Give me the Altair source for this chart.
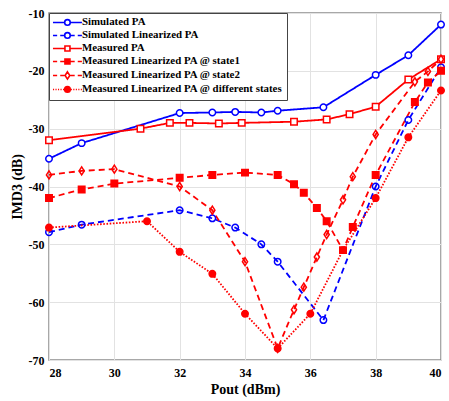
import altair as alt
import pandas as pd

names = [
    "Simulated PA",
    "Simulated Linearized PA",
    "Measured PA",
    "Measured Linearized PA @ state1",
    "Measured Linearized PA @ state2",
    "Measured Linearized PA @ different states",
]

sim_pa_x = [28, 29, 32, 33, 33.7, 34.5, 35, 36.4, 38, 39, 40]
sim_pa_y = [-35.2, -32.5, -27.3, -27.2, -27.1, -27.2, -26.9, -26.3, -20.7, -17.3, -12.0]

sim_lin_x = [28, 29, 32, 33, 33.7, 34.5, 35, 36.4, 38, 39, 40]
sim_lin_y = [-47.9, -46.6, -44.1, -45.5, -47.1, -50.0, -53.0, -63.1, -40.0, -28.5, -19.4]

meas_pa_x = [28, 30.8, 31.7, 32.3, 33.2, 33.9, 35.5, 36.5, 37.2, 38, 39, 40]
meas_pa_y = [-32.0, -30.0, -29.0, -29.0, -29.1, -29.0, -28.8, -28.4, -27.5, -26.2, -21.5, -18.0]

state1_x = [28, 29, 30, 32, 33, 34, 35, 35.5, 35.8, 36.2, 36.5, 37, 37.3, 38, 39.2, 39.6, 40]
state1_y = [-42.0, -40.5, -39.5, -38.5, -38.0, -37.6, -38.0, -39.6, -41.1, -43.7, -46.0, -51.0, -47.0, -38.0, -25.4, -22.0, -20.0]

state2_x = [28, 29, 30, 32, 33, 34, 35, 35.5, 35.8, 36.2, 36.5, 37, 37.3, 38, 39.2, 39.6, 40]
state2_y = [-38.0, -37.3, -37.0, -40.0, -44.1, -53.0, -68.0, -61.3, -57.4, -52.2, -48.3, -42.3, -38.3, -31.0, -21.9, -20.1, -18.0]

diff_x = [28, 31, 32, 33, 34, 35, 36, 37, 38, 39, 40]
diff_y = [-47.1, -46.0, -51.3, -55.1, -62.0, -68.0, -62.0, -51.0, -42.0, -31.5, -23.4]

x_ticks = [28, 30, 32, 34, 36, 38, 40]
y_ticks = [-70, -60, -50, -40, -30, -20, -10]

series_x = [sim_pa_x, sim_lin_x, meas_pa_x, state1_x, state2_x, diff_x]
series_y = [sim_pa_y, sim_lin_y, meas_pa_y, state1_y, state2_y, diff_y]

rows = []
for name, xs, ys in zip(names, series_x, series_y):
    for i, (xv, yv) in enumerate(zip(xs, ys)):
        rows.append({"series": name, "x": xv, "y": yv, "i": i})
df = pd.DataFrame(rows)

colors = ["#0000ff", "#0000ff", "#ff0000", "#ff0000", "#ff0000", "#ff0000"]
dashes = [[1, 0], [6, 4], [1, 0], [6, 4], [6, 4], [1.6, 1.6]]
dia_pt = "M0,-1.25L0.8,0L0,1.25L-0.8,0Z"
shapes = ["circle", "circle", "square", "square", dia_pt, "circle"]
fills = ["white", "transparent", "white", "#ff0000", "transparent", "#ff0000"]

circ = "M-1,0A1,1 0 1,0 1,0A1,1 0 1,0 -1,0Z"
sq = "M-0.9,-0.9H0.9V0.9H-0.9Z"
dia = "M0,-1.3L0.85,0L0,1.3L-0.85,0Z"
solid = "M-5.2,0H-1M1,0H5.2"
dashed = "M-5.2,0H-3.7M-2.6,0H-1.1M1.1,0H2.6M3.7,0H5.2"
dotted = ("M-5.2,0H-4.8M-4.3,0H-3.9M-3.4,0H-3M-2.5,0H-2.1M-1.6,0H-1.1"
          "M1.1,0H1.6M2.1,0H2.5M3,0H3.4M3.9,0H4.3M4.8,0H5.2")
legend_shapes = [
    solid + circ,
    dashed + circ,
    solid + sq,
    dashed + sq,
    dashed + dia,
    dotted + circ,
]

FONT = "Liberation Serif"

xenc = alt.X("x:Q", scale=alt.Scale(domain=[28, 40], nice=False),
             axis=alt.Axis(values=x_ticks, title="Pout (dBm)", labelExpr="'' + datum.value"))
yenc = alt.Y("y:Q", scale=alt.Scale(domain=[-70, -10], nice=False),
             axis=alt.Axis(values=y_ticks, title="IMD3 (dB)", labelExpr="'' + datum.value"))

base = alt.Chart(df)

lines = base.mark_line(strokeWidth=1.8).encode(
    x=xenc, y=yenc,
    stroke=alt.Stroke("series:N", scale=alt.Scale(domain=names, range=colors), legend=None),
    strokeDash=alt.StrokeDash("series:N", scale=alt.Scale(domain=names, range=dashes), legend=None),
    order="i:Q",
)

points = base.mark_point(size=42, strokeWidth=1.5, opacity=1).encode(
    x=xenc, y=yenc,
    stroke=alt.Stroke("series:N", scale=alt.Scale(domain=names, range=colors), legend=None),
    fill=alt.Fill("series:N", scale=alt.Scale(domain=names, range=fills), legend=None),
    shape=alt.Shape("series:N", scale=alt.Scale(domain=names, range=shapes), legend=None),
)

leg = alt.Legend(
    title=None, orient="top-left", offset=0, padding=4,
    strokeColor="#444444", fillColor="white", cornerRadius=0,
    labelFont=FONT, labelFontWeight="bold", labelFontSize=10.9, labelColor="black",
    symbolSize=31, symbolStrokeWidth=1.6, symbolOffset=9, labelOffset=9,
    rowPadding=0, labelLimit=400,
)

legend_layer = base.mark_point(size=31, strokeWidth=1.6, opacity=1).encode(
    x=xenc, y=yenc,
    stroke=alt.Stroke("series:N", scale=alt.Scale(domain=names, range=colors), legend=leg),
    fill=alt.Fill("series:N", scale=alt.Scale(domain=names, range=fills), legend=leg),
    shape=alt.Shape("series:N", scale=alt.Scale(domain=names, range=legend_shapes), legend=leg),
).transform_filter("false")

chart = alt.layer(lines, points, legend_layer).resolve_scale(
    stroke="independent", fill="independent", shape="independent", strokeDash="independent"
).properties(
    width=392, height=347,
    padding={"left": 49, "top": 13, "right": 8, "bottom": 41},
    autosize=alt.AutoSizeParams(type="none"),
).configure_view(
    stroke="#8c8c8c", strokeWidth=1.5
).configure_axis(
    grid=True, gridColor="#e2e2e2", gridWidth=1, domain=False, ticks=False,
    labelFont=FONT, labelFontWeight="bold", labelFontSize=12, labelColor="black",
    titleFont=FONT, titleFontWeight="bold", titleFontSize=14, titleColor="black",
).configure_axisX(labelPadding=7, titlePadding=4).configure_axisY(labelPadding=5, titlePadding=4)

chart.save("out.html", embed_options={"renderer": "svg", "actions": False})
